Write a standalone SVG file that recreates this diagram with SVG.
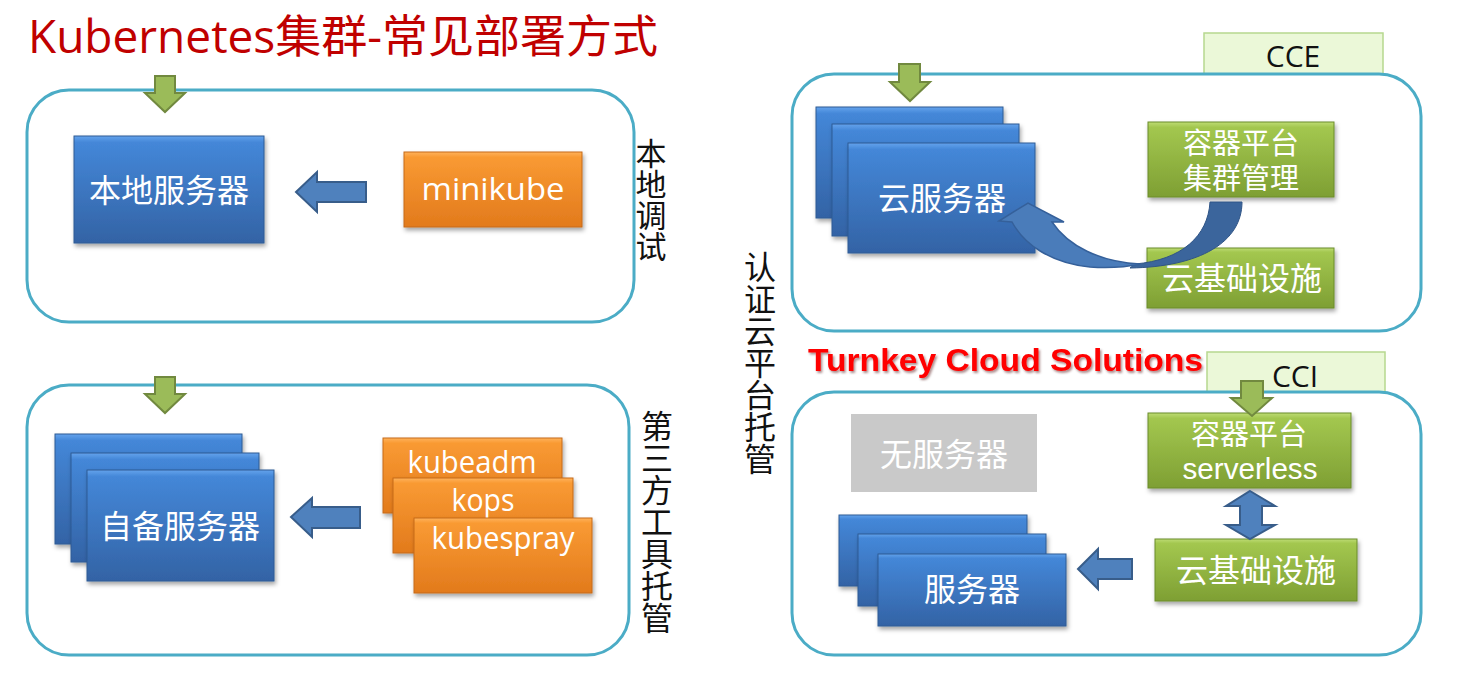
<svg xmlns="http://www.w3.org/2000/svg" width="1481" height="677" viewBox="0 0 1481 677">
<defs>
<linearGradient id="gBlue" x1="0" y1="0" x2="0" y2="1">
<stop offset="0" stop-color="#64A3EC"/><stop offset="0.06" stop-color="#4487D8"/><stop offset="1" stop-color="#3363A5"/>
</linearGradient>
<linearGradient id="gOrange" x1="0" y1="0" x2="0" y2="1">
<stop offset="0" stop-color="#FFB25A"/><stop offset="0.07" stop-color="#F99A33"/><stop offset="1" stop-color="#E27A1C"/>
</linearGradient>
<linearGradient id="gGreen" x1="0" y1="0" x2="0" y2="1">
<stop offset="0" stop-color="#BEDC74"/><stop offset="0.07" stop-color="#A3C74F"/><stop offset="1" stop-color="#7E9F33"/>
</linearGradient>
<filter id="sh" x="-10%" y="-10%" width="125%" height="130%">
<feDropShadow dx="1.5" dy="3" stdDeviation="2" flood-color="#000" flood-opacity="0.35"/>
</filter>
<filter id="tsh" x="-5%" y="-20%" width="110%" height="150%">
<feDropShadow dx="1.5" dy="2" stdDeviation="1.2" flood-color="#400" flood-opacity="0.45"/>
</filter>
</defs>
<style>
.frame{fill:#fff;stroke:#4BACC6;stroke-width:3}
.blue{fill:url(#gBlue);stroke:#2E5B94;stroke-width:1;filter:url(#sh)}
.orange{fill:url(#gOrange);stroke:#C56A18;stroke-width:1;filter:url(#sh)}
.green{fill:url(#gGreen);stroke:#6B8C2A;stroke-width:1;filter:url(#sh)}
.gray{fill:#C9C9C9}
.tab{fill:#EBF8D8;stroke:#B6D88F;stroke-width:1.5}
.t{font-family:"Open Sans","Noto Sans CJK SC",sans-serif;fill:#fff;text-anchor:middle}
.m{font-family:"Liberation Sans","Noto Sans CJK SC",sans-serif;fill:#fff;text-anchor:middle}
.k{font-family:"Open Sans","Noto Sans CJK SC",sans-serif;fill:#111}
.v{font-family:"Noto Sans CJK SC",sans-serif;fill:#111;writing-mode:vertical-rl;text-orientation:upright}
.barrow{fill:#4F81BD;stroke:#385D8A;stroke-width:2;stroke-linejoin:miter}
.garrow{fill:#9BBB59;stroke:#71893F;stroke-width:2}
</style>
<rect width="1481" height="677" fill="#fff"/>

<g id="title">
<text x="28" y="53" font-family="Open Sans,'Noto Sans CJK SC',sans-serif" font-size="45" fill="#C00000" textLength="630" lengthAdjust="spacingAndGlyphs">Kubernetes集群-常见部署方式</text>
</g>

<!-- Panel 1: local debug -->
<g id="panel-local">
<rect class="frame" x="27" y="90" width="607" height="232" rx="42"/>
<text class="v" x="651" y="138" font-size="31">本地调试</text>
</g>
<g id="node-local-server">
<rect class="blue" x="74" y="136" width="190" height="107"/>
<text class="t" x="169" y="202" font-size="32">本地服务器</text>
</g>
<g id="node-minikube">
<rect class="orange" x="404" y="152" width="178" height="75"/>
<text class="t" x="493" y="200" font-size="31" textLength="143" lengthAdjust="spacingAndGlyphs">minikube</text>
</g>

<!-- Panel 2: third-party tools -->
<g id="panel-thirdparty">
<rect class="frame" x="27" y="385" width="602" height="270" rx="42"/>
<text class="v" x="657" y="410" font-size="32">第三方工具托管</text>
</g>
<g id="node-own-servers">
<rect class="blue" x="55" y="434" width="187" height="110"/>
<rect class="blue" x="71" y="453" width="188" height="109"/>
<rect class="blue" x="87" y="470" width="187" height="111"/>
<text class="t" x="180" y="538" font-size="32">自备服务器</text>
</g>
<g id="node-tools">
<rect class="orange" x="383" y="438" width="179" height="75"/>
<text class="t" x="472" y="473" font-size="31" textLength="129" lengthAdjust="spacingAndGlyphs">kubeadm</text>
<rect class="orange" x="393" y="478" width="180" height="75"/>
<text class="t" x="483" y="511" font-size="31" textLength="63" lengthAdjust="spacingAndGlyphs">kops</text>
<rect class="orange" x="414" y="518" width="178" height="75"/>
<text class="t" x="503" y="549" font-size="31" textLength="143" lengthAdjust="spacingAndGlyphs">kubespray</text>
</g>

<!-- Middle label -->
<g id="label-cloud">
<text class="v" x="760" y="251" font-size="32">认证云平台托管</text>
</g>

<!-- Panel 3: CCE -->
<g id="tab-cce">
<rect class="tab" x="1204" y="33" width="179" height="50"/>
<text class="k" x="1293" y="67" font-size="30" text-anchor="middle">CCE</text>
</g>
<g id="panel-cce">
<rect class="frame" x="792" y="74" width="629" height="257" rx="42"/>
</g>
<g id="node-cloud-servers">
<rect class="blue" x="816" y="107" width="187" height="111"/>
<rect class="blue" x="832" y="124" width="187" height="112"/>
<rect class="blue" x="848" y="143" width="187" height="110"/>
<text class="t" x="942" y="210" font-size="32">云服务器</text>
</g>
<g id="node-cce-platform">
<rect class="green" x="1148" y="122" width="186" height="75"/>
<text class="m" x="1241" y="154" font-size="29">容器平台</text>
<text class="m" x="1241" y="189" font-size="29">集群管理</text>
</g>
<g id="node-cce-infra">
<rect class="green" x="1147" y="248" width="187" height="60"/>
<text class="t" x="1242" y="290" font-size="32">云基础设施</text>
</g>

<!-- Turnkey + CCI -->
<g id="label-turnkey">
<text x="808" y="371" font-family="Liberation Sans,Arial,sans-serif" font-weight="bold" font-size="31" fill="#FF0000" filter="url(#tsh)" textLength="395" lengthAdjust="spacingAndGlyphs">Turnkey Cloud Solutions</text>
</g>
<g id="tab-cci">
<rect class="tab" x="1207" y="352" width="178" height="50"/>
<text class="k" x="1295" y="387" font-size="30" text-anchor="middle">CCI</text>
</g>
<g id="panel-cci">
<rect class="frame" x="792" y="392" width="629" height="263" rx="42"/>
</g>
<g id="node-serverless-gray">
<rect class="gray" x="851" y="414" width="186" height="78"/>
<text class="t" x="944" y="466" font-size="32" fill="#F4F4F4">无服务器</text>
</g>
<g id="node-cci-platform">
<rect class="green" x="1148" y="413" width="203" height="75"/>
<text class="m" x="1249" y="445" font-size="29">容器平台</text>
<text class="m" x="1250" y="479" font-size="29" textLength="135" lengthAdjust="spacingAndGlyphs">serverless</text>
</g>
<g id="node-cci-infra">
<rect class="green" x="1155" y="539" width="202" height="62"/>
<text class="t" x="1256" y="582" font-size="32">云基础设施</text>
</g>
<g id="node-servers">
<rect class="blue" x="839" y="515" width="188" height="71"/>
<rect class="blue" x="858" y="534" width="188" height="72"/>
<rect class="blue" x="878" y="554" width="188" height="72"/>
<text class="t" x="972" y="601" font-size="32">服务器</text>
</g>

<!-- Connectors -->
<g id="connectors">
<polygon class="garrow" points="155,76 175,76 175,93 185,93 165,112 145,93 155,93"/>
<polygon class="garrow" points="155,377 175,377 175,394 185,394 165,413 145,394 155,394"/>
<polygon class="garrow" points="899,64 920,64 920,82 930,82 910,101 890,82 899,82"/>
<polygon class="garrow" points="1241,381 1263,381 1263,398 1272,398 1252,416 1231,398 1241,398"/>
<polygon class="barrow" points="296,192 317,172 317,182 366,182 366,202 317,202 317,212"/>
<polygon class="barrow" points="291,517 312,498 312,507 360,507 360,528 312,528 312,537"/>
<polygon class="barrow" points="1078,569 1098,549 1098,559 1132,559 1132,579 1098,579 1098,589"/>
<polygon class="barrow" points="1250,491 1275,506 1262,506 1262,525 1275,525 1250,539 1226,525 1240,525 1240,506 1226,506"/>
<path d="M1135,264 C1182,260 1208,236 1210,202 L1242,202 C1242,242 1200,267 1130,268 Z" fill="#3B659C" stroke="#2F5486" stroke-width="1"/>
<path d="M1012,222 L999,221 L1028,203 L1064,222 L1052,222 C1068,246 1100,262 1140,264 C1122,268 1104,268 1090,267 C1050,263 1024,244 1012,222 Z" fill="#4A7CBA" stroke="#35609A" stroke-width="1.5"/>
</g>
</svg>
